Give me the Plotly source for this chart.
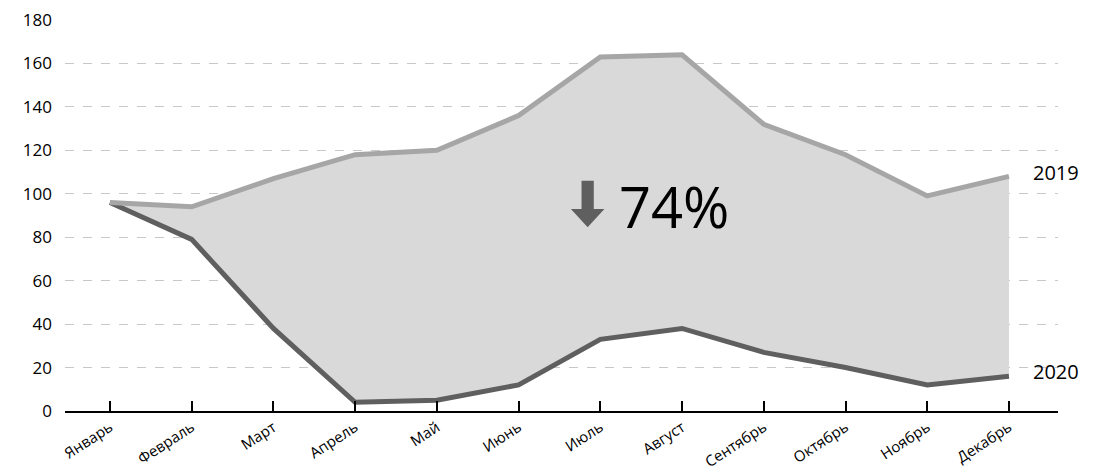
import plotly.graph_objects as go

months = ["Январь", "Февраль", "Март", "Апрель", "Май", "Июнь",
          "Июль", "Август", "Сентябрь", "Октябрь", "Ноябрь", "Декабрь"]
values_2019 = [96, 94, 107, 118, 120, 136, 163, 164, 132, 118, 99, 108]
values_2020 = [96, 79, 38, 4, 5, 12, 33, 38, 27, 20, 12, 16]
y_ticks = [0, 20, 40, 60, 80, 100, 120, 140, 160, 180]
decline_label = "74%"

FONT = "Open Sans"
idx = list(range(len(months)))

fig = go.Figure()
fig.add_trace(go.Scatter(
    x=idx, y=values_2020, mode="lines",
    line=dict(color="#5f5f5f", width=5), name="2020",
))
fig.add_trace(go.Scatter(
    x=idx, y=values_2019, mode="lines",
    line=dict(color="#a6a6a6", width=5), name="2019",
    fill="tonexty", fillcolor="#d9d9d9",
))

# Series labels at the right end of each line
fig.add_annotation(x=idx[-1], y=values_2019[-1], text="2019", showarrow=False,
                   xanchor="left", xshift=22, yshift=4,
                   font=dict(family=FONT, size=20, color="#000"))
fig.add_annotation(x=idx[-1], y=values_2020[-1], text="2020", showarrow=False,
                   xanchor="left", xshift=22, yshift=5,
                   font=dict(family=FONT, size=20, color="#000"))

# Decline marker: down arrow plus percentage
fig.add_shape(type="path", xref="x", yref="y", layer="above",
              path="M 5.77 106.0 L 5.77 93 L 5.64 93 L 5.845 84.6 L 6.05 93 L 5.92 93 L 5.92 106.0 Z",
              fillcolor="#5f5f5f", line=dict(width=0))
fig.add_annotation(x=6.9, y=94.5, text=decline_label, showarrow=False,
                   xanchor="center", yanchor="middle",
                   font=dict(family=FONT, size=56, color="#000"))

fig.update_layout(
    width=1104, height=473,
    margin=dict(l=65, r=46, t=20, b=62),
    plot_bgcolor="white", paper_bgcolor="white",
    showlegend=False,
    font=dict(family=FONT, color="#000"),
)
fig.update_xaxes(
    tickmode="array", tickvals=idx, ticktext=months,
    range=[-0.55, 11.6], automargin=False,
    showgrid=False, zeroline=False,
    showline=True, linecolor="#000", linewidth=2,
    ticks="inside", ticklen=10, tickwidth=2, tickcolor="#000",
    tickangle=-33, tickfont=dict(family=FONT, size=15, color="#000"),
)
fig.update_yaxes(
    range=[0, 180], tickvals=y_ticks, automargin=False,
    showgrid=True, gridcolor="#c8c8c8", griddash="dash", gridwidth=1,
    zeroline=False, showline=False, ticks="",
    tickfont=dict(family=FONT, size=17, color="#000"),
    ticklabelstandoff=12,
)

fig.write_html("out.html")
